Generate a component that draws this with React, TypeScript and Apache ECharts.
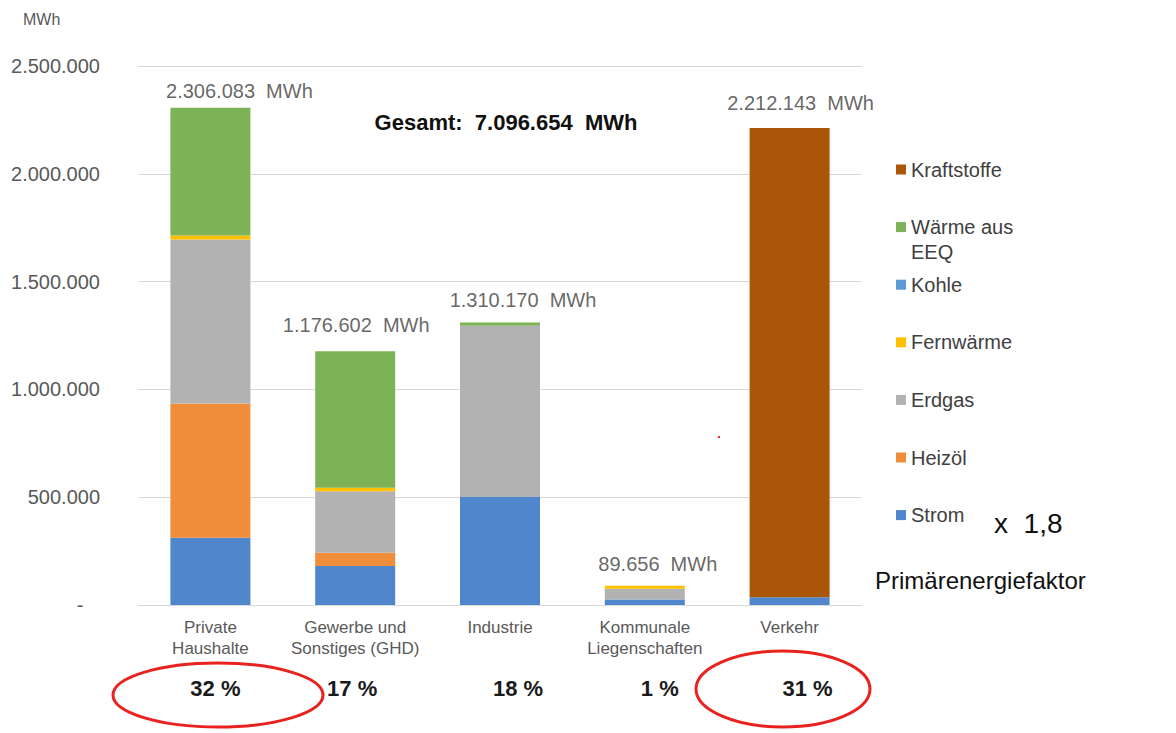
import React, { useEffect, useRef } from "react";
import * as echarts from "echarts";

// Endenergieverbrauch nach Sektoren (MWh)
const categories = [
  "Private\nHaushalte",
  "Gewerbe und\nSonstiges (GHD)",
  "Industrie",
  "Kommunale\nLiegenschaften",
  "Verkehr",
];

const strom = [312000, 181000, 501000, 25000, 36000];
const heizoel = [623000, 61000, 0, 0, 0];
const erdgas = [760000, 286000, 794000, 50000, 0];
const fernwaerme = [19000, 16000, 0, 14656, 0];
const kohle = [0, 0, 0, 0, 0];
const waermeEEQ = [592083, 632602, 15170, 0, 0];
const kraftstoffe = [0, 0, 0, 0, 2176143];

const shares = ["32 %", "17 %", "18 %", "1 %", "31 %"];
const gesamtMWh = 7096654;

const yMin = 0;
const yMax = 2500000;
const yStep = 500000;

// stacking order, bottom to top
const stackSeries = [
  { name: "Strom", data: strom, color: "#4F86CC" },
  { name: "Heizöl", data: heizoel, color: "#EF8D3B" },
  { name: "Erdgas", data: erdgas, color: "#B2B2B2" },
  { name: "Fernwärme", data: fernwaerme, color: "#FFC000" },
  { name: "Kohle", data: kohle, color: "#5B9BD5" },
  { name: "Wärme aus EEQ", data: waermeEEQ, color: "#7DB356" },
  { name: "Kraftstoffe", data: kraftstoffe, color: "#AB5508" },
];

// label placement tweaks (px)
const totalLabelOffsets = [
  [29, -17],
  [1, -26],
  [23, -23],
  [13, -22],
  [11, -25],
];
const shareShift = [5, -3, 18, 15, 18];

const FONT = "'Liberation Sans', Arial, sans-serif";

const fmt = (n: number) =>
  String(Math.round(n)).replace(/\B(?=(\d{3})+(?!\d))/g, ".");

export default function App() {
  const ref = useRef<HTMLDivElement>(null);

  useEffect(() => {
    if (!ref.current) return;
    const chart = echarts.init(ref.current, null, { renderer: "svg" });

    const totals = categories.map((_, i) =>
      stackSeries.reduce((s, ser) => s + ser.data[i], 0)
    );

    const legendOrder = [...stackSeries].reverse();
    const lineH = 25;
    const legends = legendOrder.map((s, i) => {
      const center = 169.5 + i * 57.6;
      const twoLine = s.name === "Wärme aus EEQ";
      return {
        show: true,
        data: [s.name],
        orient: "vertical",
        left: 896,
        top: twoLine ? center - 1.5 * lineH : center - lineH / 2,
        icon: "rect",
        itemWidth: 10,
        itemHeight: 10,
        selectedMode: false,
        padding: 0,
        // the wrapped entry keeps its marker beside the first line
        formatter: (name: string) =>
          name === "Wärme aus EEQ" ? " \nWärme aus\nEEQ" : name,
        textStyle: {
          fontFamily: FONT,
          fontSize: 20,
          color: "#404040",
          lineHeight: lineH,
        },
      };
    });

    const option: any = {
      animation: false,
      backgroundColor: "#ffffff",
      grid: { left: 138, right: 314, top: 66, bottom: 128, containLabel: false },
      legend: legends,
      xAxis: [
        {
          type: "category",
          data: categories,
          position: "bottom",
          axisLine: { show: true, lineStyle: { color: "#d9d9d9", width: 1 } },
          axisTick: { show: false },
          axisLabel: {
            fontFamily: FONT,
            fontSize: 17,
            lineHeight: 21,
            color: "#595959",
            margin: 12,
            interval: 0,
          },
        },
        {
          type: "category",
          data: shares.map((v, i) => {
            const s = shareShift[i];
            return {
              value: v,
              textStyle: {
                padding: s > 0 ? [0, 0, 0, 2 * s] : [0, -2 * s, 0, 0],
              },
            };
          }),
          position: "bottom",
          offset: 0,
          axisLine: { show: false },
          axisTick: { show: false },
          splitLine: { show: false },
          axisLabel: {
            fontFamily: FONT,
            fontSize: 22,
            fontWeight: "bold",
            lineHeight: 22,
            color: "#1a1a1a",
            margin: 72,
            interval: 0,
          },
        },
      ],
      yAxis: {
        type: "value",
        min: yMin,
        max: yMax,
        interval: yStep,
        axisLine: { show: false },
        axisTick: { show: false },
        splitLine: { lineStyle: { color: "#d9d9d9", width: 1 } },
        axisLabel: {
          fontFamily: FONT,
          fontSize: 20,
          color: "#595959",
          margin: 38,
          formatter: (v: number) => (v === 0 ? "-   " : fmt(v)),
        },
      },
      series: [
        ...stackSeries.map((s) => ({
          name: s.name,
          type: "bar",
          stack: "total",
          barWidth: 80,
          data: s.data,
          itemStyle: { color: s.color },
          emphasis: { disabled: true },
        })),
        {
          name: "Summe",
          type: "scatter",
          symbolSize: 0,
          z: 10,
          data: totals.map((t, i) => ({
            value: t,
            label: { offset: totalLabelOffsets[i] },
          })),
          label: {
            show: true,
            position: "inside",
            fontFamily: FONT,
            fontSize: 20,
            color: "#404040",
            formatter: (p: any) => fmt(p.value) + "  MWh",
          },
          emphasis: { disabled: true },
        },
      ],
      graphic: [
        {
          type: "text",
          left: 23,
          top: 11,
          style: {
            text: "MWh",
            font: `16px ${FONT}`,
            fill: "#595959",
          },
        },
        {
          type: "text",
          x: 506,
          y: 122,
          style: {
            text: `Gesamt:  ${fmt(gesamtMWh)}  MWh`,
            font: `bold 22px ${FONT}`,
            fill: "#111111",
            align: "center",
            verticalAlign: "middle",
          },
        },
        {
          type: "text",
          x: 994,
          y: 523,
          style: {
            text: "x  1,8",
            font: `28px ${FONT}`,
            fill: "#111111",
            verticalAlign: "middle",
          },
        },
        {
          type: "text",
          x: 875,
          y: 580,
          style: {
            text: "Primärenergiefaktor",
            font: `24px ${FONT}`,
            fill: "#111111",
            verticalAlign: "middle",
          },
        },
        {
          type: "ellipse",
          shape: { cx: 218, cy: 695, rx: 105, ry: 32 },
          style: { fill: "none", stroke: "#E8231F", lineWidth: 3 },
        },
        {
          type: "ellipse",
          shape: { cx: 783, cy: 689, rx: 87, ry: 38 },
          style: { fill: "none", stroke: "#E8231F", lineWidth: 3 },
        },
        {
          type: "circle",
          shape: { cx: 719, cy: 437, r: 1.2 },
          style: { fill: "#E8231F" },
        },
      ],
    };

    chart.setOption(option);
    return () => chart.dispose();
  }, []);

  return (
    <div
      ref={ref}
      style={{ position: "fixed", left: 0, top: 0, width: 1176, height: 733 }}
    />
  );
}
